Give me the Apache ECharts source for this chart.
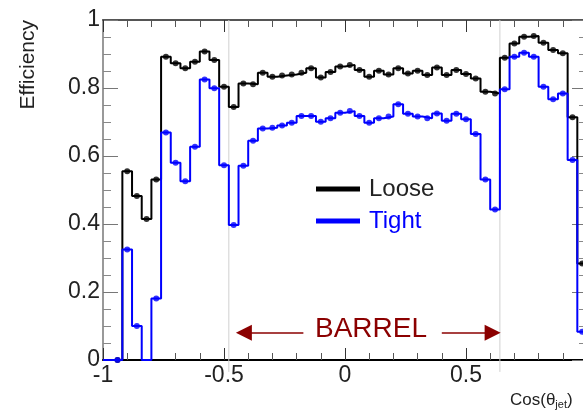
<!DOCTYPE html>
<html>
<head>
<meta charset="utf-8">
<script src="https://cdn.jsdelivr.net/npm/echarts@6/dist/echarts.min.js"></script>
<style>
  html, body { margin: 0; padding: 0; background: #fff; }
  #chart { width: 583px; height: 413px; }
</style>
</head>
<body>
<div id="chart"></div>
<script>
// 50 bins of 0.04 in cos(theta_jet), from -1 to 1
const binStart = -1
const binWidth = 0.04

// efficiency per bin (null = empty bin, no marker)
const loose = [
  null, 0, 0.555, 0.482, 0.415, 0.531, 0.892, 0.873, 0.858, 0.877,
  0.907, 0.882, 0.804, 0.744, 0.813, 0.811, 0.845, 0.833, 0.837, 0.840,
  0.845, 0.858, 0.831, 0.847, 0.863, 0.868, 0.853, 0.833, 0.851, 0.840,
  0.858, 0.843, 0.851, 0.838, 0.860, 0.838, 0.853, 0.841, 0.828, 0.789,
  0.784, 0.889, 0.931, 0.951, 0.953, 0.933, 0.912, 0.902, 0.714, 0.284
]
const tight = [
  null, 0, 0.325, 0.100, null, 0.181, 0.669, 0.580, 0.526, 0.627,
  0.825, 0.799, 0.573, 0.397, 0.571, 0.645, 0.681, 0.683, 0.690, 0.698,
  0.718, 0.718, 0.701, 0.711, 0.727, 0.732, 0.718, 0.698, 0.711, 0.716,
  0.752, 0.724, 0.716, 0.711, 0.725, 0.704, 0.724, 0.708, 0.665, 0.531,
  0.443, 0.796, 0.892, 0.904, 0.892, 0.804, 0.767, 0.784, 0.588, 0.083
]

// barrel region edges and arrow annotation (data coords)
const barrelEdges = [-0.48, 0.64]
const edgeSpan = [-0.035, 1]
const leftArrow = [[-0.172, 0.08], [-0.418, 0.08]]
const rightArrow = [[0.40, 0.08], [0.61, 0.08]]

const font = "'Liberation Sans', Arial, Helvetica, sans-serif"

const stepPoints = (values) => {
  const pts = []
  values.forEach((v, i) => {
    const x0 = binStart + i * binWidth
    pts.push([x0, v ?? 0], [x0 + binWidth, v ?? 0])
  })
  return pts
}

const markerPoints = (values) =>
  values.map((v, i) => (v == null ? null : [binStart + (i + 0.5) * binWidth, v])).filter(Boolean)

// vertical guide lines, separated by a gap point
const edgeLines = []
barrelEdges.forEach((x) => {
  edgeLines.push([x, edgeSpan[0]], [x, edgeSpan[1]], '-')
})

const chart = echarts.init(document.getElementById('chart'))

const xTicks = {
  type: 'value',
  min: -1,
  max: 1,
  interval: 0.5,
  axisTick: { inside: true, length: 12, lineStyle: { color: '#333' } },
  minorTick: { show: true, splitNumber: 5, length: 7, lineStyle: { color: '#555' } },
  splitLine: { show: false },
}

const yTicks = {
  type: 'value',
  min: 0,
  max: 1,
  interval: 0.2,
  axisTick: { inside: true, length: 15, lineStyle: { color: '#777' } },
  minorTick: { show: true, splitNumber: 4, length: 8, lineStyle: { color: '#888' } },
  splitLine: { show: false },
}

chart.setOption({
  animation: false,
  // plot frame runs a few pixels past the right edge of the picture
  grid: { left: 103, width: 484, top: 20, bottom: 53, outerBoundsMode: 'none' },
  legend: {
    orient: 'vertical',
    left: 316,
    top: 177,
    padding: 0,
    icon: 'rect',
    itemWidth: 44,
    itemHeight: 5,
    itemGap: 8,
    itemStyle: { borderWidth: 0 },
    lineStyle: { width: 0 },
    textStyle: { fontFamily: font, fontSize: 24, lineHeight: 24, padding: [0, 0, 0, 4] },
    data: [
      { name: 'Loose', textStyle: { color: '#222' } },
      { name: 'Tight', textStyle: { color: '#0000ff' } },
    ],
  },
  xAxis: [
    {
      ...xTicks,
      axisLine: { onZero: false, lineStyle: { color: '#000', width: 2 } },
      axisLabel: { color: '#222', fontFamily: font, fontSize: 23, margin: 4, showMaxLabel: false },
    },
    {
      ...xTicks,
      position: 'top',
      axisLine: { onZero: false, lineStyle: { color: '#555', width: 2 } },
      axisLabel: { show: false },
    },
  ],
  yAxis: [
    {
      ...yTicks,
      axisLine: { show: true, onZero: false, lineStyle: { color: '#999', width: 2 } },
      axisLabel: { color: '#222', fontFamily: font, fontSize: 23, margin: 3 },
    },
    {
      ...yTicks,
      position: 'right',
      axisLine: { show: true, onZero: false, lineStyle: { color: '#777', width: 2 } },
      axisLabel: { show: false },
    },
  ],
  series: [
    {
      type: 'line',
      clip: false,
      silent: true,
      data: edgeLines,
      symbol: 'none',
      connectNulls: false,
      lineStyle: { color: '#d0d0d0', width: 1 },
      z: 1,
    },
    {
      name: 'Loose',
      type: 'line',
      clip: false,
      data: stepPoints(loose),
      symbol: 'none',
      color: '#000',
      lineStyle: { color: '#000', width: 2 },
      z: 2,
    },
    {
      type: 'scatter',
      data: markerPoints(loose),
      symbol: 'circle',
      symbolSize: 6,
      itemStyle: { color: '#000' },
      z: 3,
    },
    {
      name: 'Tight',
      type: 'line',
      clip: false,
      data: stepPoints(tight),
      symbol: 'none',
      color: '#0000ff',
      lineStyle: { color: '#0000ff', width: 2 },
      z: 4,
      markLine: {
        silent: true,
        symbol: ['none', 'triangle'],
        symbolSize: 16,
        label: { show: false },
        lineStyle: { color: '#8b0000', width: 1.5, type: 'solid' },
        itemStyle: { color: '#8b0000' },
        data: [leftArrow, rightArrow].map(([a, b]) => [{ coord: a }, { coord: b }]),
      },
    },
    {
      type: 'scatter',
      data: markerPoints(tight),
      symbol: 'circle',
      symbolSize: 6,
      itemStyle: { color: '#0000ff' },
      z: 5,
    },
  ],
  graphic: [
    {
      type: 'text',
      x: 28,
      y: 20,
      rotation: Math.PI / 2,
      style: {
        text: 'Efficiency',
        fill: '#222',
        font: '21px ' + font,
        textAlign: 'right',
        textVerticalAlign: 'middle',
      },
    },
    {
      type: 'text',
      left: 315,
      top: 315,
      style: { text: 'BARREL', fill: '#8b0000', font: '28px ' + font },
    },
    {
      type: 'text',
      left: 510,
      top: 392,
      style: {
        text: 'Cos(θ{sub|jet})',
        fill: '#222',
        font: '17px ' + font,
        rich: { sub: { fontSize: 11, fontFamily: font, fill: '#222', padding: [8, 0, 0, 0] } },
      },
    },
  ],
})
</script>
</body>
</html>
